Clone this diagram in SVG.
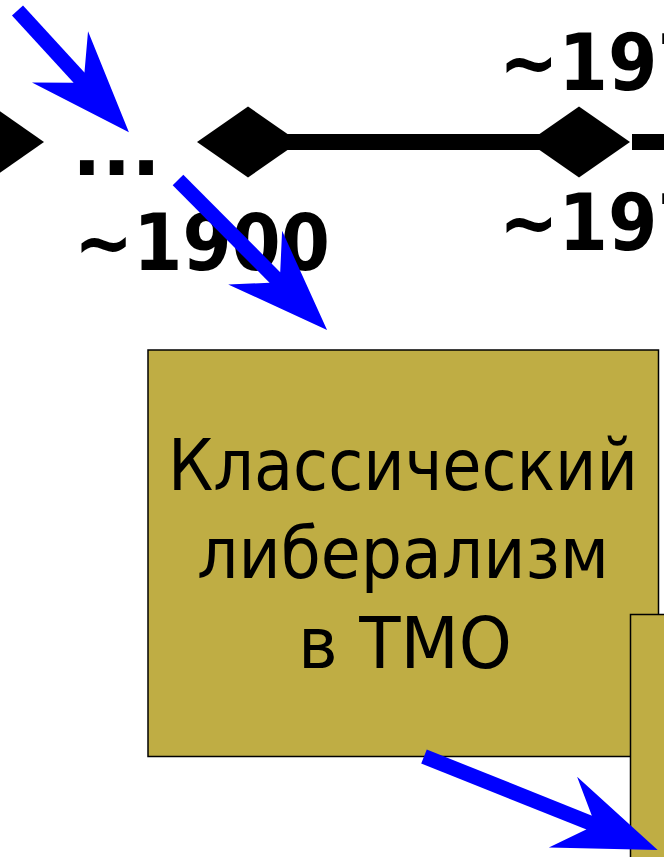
<svg xmlns="http://www.w3.org/2000/svg" width="664" height="857" viewBox="0 0 664 857">
  <style>
    .tl { stroke: #000; stroke-width: 16; fill: none; }
    .dia { fill: #000; }
    .yr { font-family: "DejaVu Sans", Verdana, sans-serif; font-weight: bold; font-size: 78px; fill: #000; }
    .box { fill: #BFAD44; stroke: #000; stroke-width: 1.5; }
    .lbl { font-family: "DejaVu Sans", Verdana, sans-serif; font-size: 71px; fill: #000; text-anchor: middle; }
    .arr { stroke: #0000FF; stroke-width: 15; fill: none; marker-end: url(#head); }
  </style>
  <defs>
    <marker id="head" markerUnits="userSpaceOnUse" orient="auto" refX="0" refY="0" markerWidth="200" markerHeight="200" overflow="visible">
      <path d="M73 0 L-29 -38 L-1 -7.5 L-1 7.5 L-29 38 Z" fill="#0000FF"/>
    </marker>
    <path id="diamond" d="M-51 0 L0 -35.5 L51 0 L0 35.5 Z"/>
  </defs>
  <rect width="664" height="857" fill="#FFFFFF"/>

  <g id="timeline">
    <line class="tl" x1="248" y1="142" x2="579" y2="142"/>
    <line class="tl" x1="632" y1="142" x2="700" y2="142"/>
    <use href="#diamond" class="dia" x="-7" y="142"/>
    <use href="#diamond" class="dia" x="248" y="142"/>
    <use href="#diamond" class="dia" x="579" y="142"/>
  </g>

  <g id="labels">
    <text class="yr" x="72" y="175">...</text>
    <text class="yr" x="74" y="270" textLength="256" lengthAdjust="spacingAndGlyphs">~1900</text>
    <text class="yr" x="499" y="90" textLength="208" lengthAdjust="spacingAndGlyphs">~197</text>
    <text class="yr" x="499" y="250" textLength="208" lengthAdjust="spacingAndGlyphs">~197</text>
  </g>

  <g id="node-classic">
    <rect class="box" x="148" y="350" width="510.5" height="406.5"/>
    <text class="lbl" x="403" y="490" textLength="470" lengthAdjust="spacingAndGlyphs">Классический</text>
    <text class="lbl" x="403" y="578" textLength="412" lengthAdjust="spacingAndGlyphs">либерализм</text>
    <text class="lbl" x="405" y="668" textLength="214" lengthAdjust="spacingAndGlyphs">в ТМО</text>
  </g>

  <g id="node-next">
    <rect class="box" x="630.5" y="614.5" width="100" height="300"/>
  </g>

  <g id="connectors">
    <line class="arr" x1="17.5" y1="10.5" x2="79.6" y2="78.3"/>
    <line class="arr" x1="178" y1="180" x2="275.6" y2="278.2"/>
    <line class="arr" x1="424" y1="756.5" x2="589.9" y2="822.9"/>
  </g>
</svg>
